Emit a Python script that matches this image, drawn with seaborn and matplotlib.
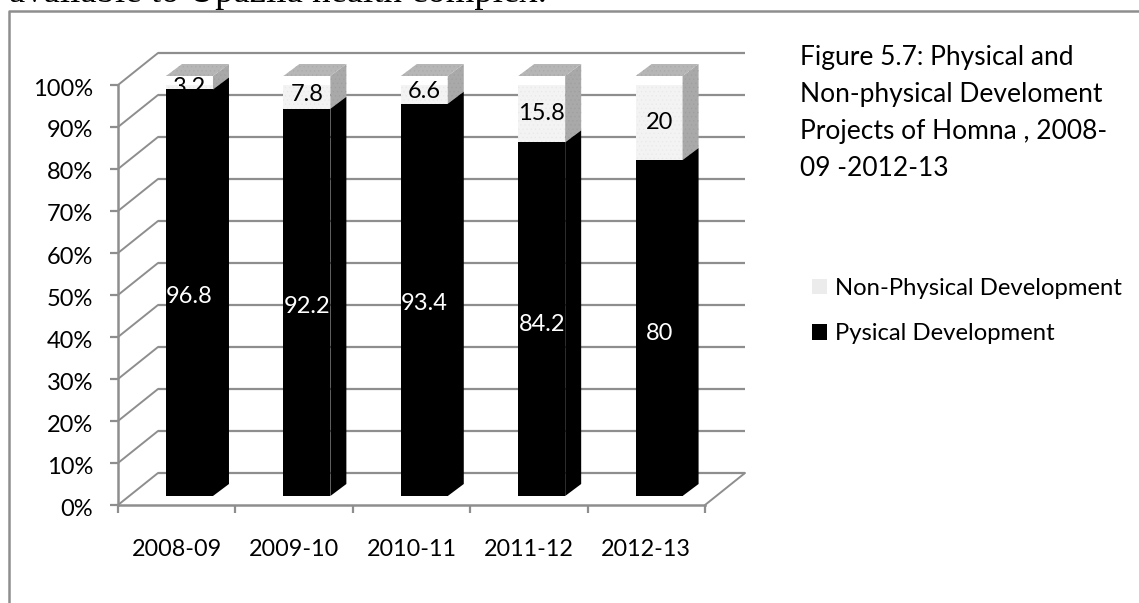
import matplotlib
matplotlib.use("Agg")
import matplotlib.pyplot as plt
from matplotlib.lines import Line2D
from matplotlib.patches import Patch
from matplotlib.transforms import ScaledTranslation
import pandas as pd
import seaborn as sns

years = ["2008-09", "2009-10", "2010-11", "2011-12", "2012-13"]
physical = [96.8, 92.2, 93.4, 84.2, 80]
non_physical = [3.2, 7.8, 6.6, 15.8, 20]
pct_ticks = [0, 10, 20, 30, 40, 50, 60, 70, 80, 90, 100]
note = "Figure 5.7: Physical and\nNon-physical Develoment\nProjects of Homna , 2008-\n09 -2012-13"
clipped_line = "available to Upazila health complex."

# label heights as they sit in the picture, not centred in the segment
physical_label_y = [47.5, 45.1, 45.8, 40.8, 38.7]
non_physical_label_y = [97.2, 95.5, 96.3, 91.0, 89.0]

W, H = 1139, 603
GRID = "#8e8e8e"
LIGHT = "#f3f3f3"
SIDE = "#a9a9a9"
FONT = "Lato"

sns.set_theme(style="white")
plt.rcParams["font.family"] = [FONT, "DejaVu Sans"]
plt.rcParams["hatch.linewidth"] = 0.4

fig = plt.figure(figsize=(W / 100, H / 100), dpi=100)
ax = fig.add_axes([118 / W, (H - 505) / H, (705 - 118) / W, 420 / H])

df = pd.DataFrame({"year": years, "physical": physical,
                   "non_physical": non_physical})
df["total"] = df["physical"] + df["non_physical"]

# front faces, light one is the full stack and black goes over it
sns.barplot(data=df, x="year", y="total", ax=ax, color=LIGHT, width=0.4,
            saturation=1, errorbar=None, zorder=3, hatch="....",
            edgecolor="#e9e9e9", linewidth=0)
sns.barplot(data=df, x="year", y="physical", ax=ax, color="black", width=0.4,
            saturation=1, errorbar=None, zorder=5, linewidth=0)

# px -> data units
x_unit = 117.4
y_unit = 4.2
x_shift = 0.109
y_shift = 9 / y_unit
ax.set_xlim(-0.5 - x_shift, 4.5 - x_shift)
ax.set_ylim(-y_shift, 100 - y_shift)

# back wall, floor and left wall lines
back_dx = 40 / x_unit
back_dy = 32 / y_unit
x0, x1 = ax.get_xlim()
for p in pct_ticks:
    y = p - y_shift
    ax.plot([x0 + back_dx, x1 + back_dx], [y + back_dy, y + back_dy], color=GRID,
            lw=1.6, clip_on=False, zorder=1, solid_capstyle="butt")
    ax.plot([x0, x0 + back_dx], [y, y + back_dy], color=GRID, lw=1.4,
            clip_on=False, zorder=1)
ax.plot([x1, x1 + back_dx], [-y_shift, -y_shift + back_dy], color=GRID, lw=1.4,
        clip_on=False, zorder=1)

# side and top faces from the same values
dx = 16 / x_unit
dy = 12 / y_unit
half = 0.2
for i, (a, b) in enumerate(zip(physical, non_physical)):
    r = i + half
    ax.fill([r, r + dx, r + dx, r], [0, dy, a + dy, a], color="black", lw=0,
            clip_on=False, zorder=5)
    ax.fill([r, r + dx, r + dx, r], [a, a + dy, a + b + dy, a + b],
            facecolor=SIDE, hatch="....", edgecolor="#9f9f9f", lw=0,
            clip_on=False, zorder=3)
    ax.fill([i - half, i - half + dx, r + dx, r],
            [a + b, a + b + dy, a + b + dy, a + b],
            facecolor="#b6b6b6", hatch="....", edgecolor="#aaaaaa", lw=0,
            clip_on=False, zorder=6)

# labels, 3.2 is partly hidden by the black bar like in the source
for i, v in enumerate(physical):
    ax.text(i, physical_label_y[i], f"{v:g}", color="white", ha="center",
            va="center", fontsize=17, zorder=7)
for i, v in enumerate(non_physical):
    ax.text(i, non_physical_label_y[i], f"{v:g}", color="black", ha="center",
            va="center", fontsize=17, zorder=4, clip_on=False)

# axes
ax.set_xlabel("")
ax.set_ylabel("")
for s in ["top", "right"]:
    ax.spines[s].set_visible(False)
for s in ["left", "bottom"]:
    ax.spines[s].set_color(GRID)
    ax.spines[s].set_linewidth(1.8)
ax.set_yticks([p - y_shift for p in pct_ticks], [f"{p}%" for p in pct_ticks])
edges = [x0 + k for k in range(len(years) + 1)]
ax.set_xticks(edges, [""] * len(edges))
ax.set_xticks([x0 + k + 0.5 for k in range(len(years))], years, minor=True)
ax.tick_params(axis="both", which="major", length=6, width=1.6, color=GRID,
               left=True, bottom=True, labelsize=17, labelcolor="black", pad=12)
ax.tick_params(axis="x", which="minor", length=0, labelsize=16.8, pad=24.5,
               labelcolor="black")
# percent labels sit about 2px under their ticks
nudge = ScaledTranslation(0, -2 / 100, fig.dpi_scale_trans)
for lab in ax.get_yticklabels():
    lab.set_transform(lab.get_transform() + nudge)

# outer frame of the embedded chart
fig.add_artist(Line2D([8.5 / W, 8.5 / W, 1], [0, (H - 11) / H, (H - 11) / H],
                      color=GRID, lw=1.8))

# line of body text cut off by the top of the scan
fig.text(9 / W, (H - 2) / H, clipped_line, family="Liberation Serif",
         fontsize=26.5, color="black", va="baseline", ha="left")

fig.text(800 / W, (H - 45) / H, note, fontsize=19, color="black", va="top",
         ha="left", linespacing=1.6)

handles = [Patch(facecolor="#ececec", lw=0), Patch(facecolor="black", lw=0)]
fig.legend(handles, ["Non-Physical Development", "Pysical Development"],
           loc="upper left", bbox_to_anchor=(812 / W, (H - 278) / H),
           frameon=False, fontsize=17.2, handlelength=0.62, handleheight=0.62,
           handletextpad=0.33, labelspacing=1.02, borderpad=0, borderaxespad=0,
           labelcolor="black")

fig.savefig("out.png", dpi=100, facecolor="white")
